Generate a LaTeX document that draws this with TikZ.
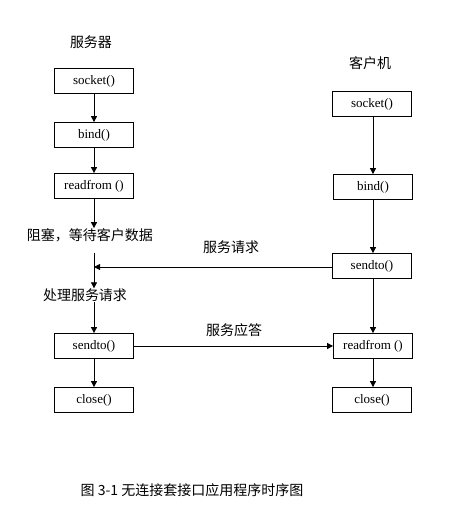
\documentclass[tikz,border=0pt]{standalone}
\usepackage{fontspec}
\setmainfont{Liberation Serif}
\newfontfamily\cjk{Noto Sans CJK SC}
\usetikzlibrary{arrows.meta}
\begin{document}
\begin{tikzpicture}[x=1pt,y=-1pt,
  fn/.style={draw,line width=0.8pt,minimum width=79pt,minimum height=25pt,inner sep=0pt,font=\fontsize{13}{13}\selectfont},
  lbl/.style={font=\cjk\fontsize{14}{14}\selectfont,inner sep=0pt},
  arr/.style={line width=0.8pt,-{Triangle[length=6pt,width=6pt]}},
  ln/.style={line width=0.8pt}]
\useasboundingbox (0,0) rectangle (454,531);
% server
\node[lbl] (st) at (91,42) {服务器};
\node[fn] (s1) at (94,81) {socket()};
\node[fn] (s2) at (94,135) {bind()};
\node[fn] (s3) at (94,186) {readfrom ()};
\node[lbl] (sb) at (90,235) {阻塞，等待客户数据};
\coordinate (sj) at (94,267);
\coordinate (sbo) at (94,253);
\node[lbl] (sp) at (85,295) {处理服务请求};
\node[fn] (s4) at (94,346) {sendto()};
\node[fn] (s5) at (94,400) {close()};
\draw[arr] (s1) -- (s2);
\draw[arr] (s2) -- (s3);
\draw[arr] (s3.south) -- (s3.south |- sb.north);
\draw[arr] (sbo) -- (sbo |- sp.north);
\draw[arr] (s4.north |- sp.south) -- (s4.north);
\draw[arr] (s4) -- (s5);
% client
\node[lbl] (ct) at (370,63) {客户机};
\node[fn] (c1) at (372,104) {socket()};
\node[fn] (c2) at (373,187) {bind()};
\node[fn] (c3) at (372,266) {sendto()};
\node[fn] (c4) at (373,346) {readfrom ()};
\node[fn] (c5) at (372,400) {close()};
\draw[arr] (c1.south -| 373,0) -- (c2.north -| 373,0);
\draw[arr] (c2.south -| 373,0) -- (c3.north -| 373,0);
\draw[arr] (c3.south -| 373,0) -- (c4.north -| 373,0);
\draw[arr] (c4.south -| 373,0) -- (c5.north -| 373,0);
% messages
\draw[arr] (c3.west |- sj) -- (sj);
\node[lbl] (m1) at (231,247) {服务请求};
\draw[arr] (s4.east) -- (c4.west);
\node[lbl] (m2) at (234,330) {服务应答};
% caption
\node[lbl,font=\cjk\fontsize{14}{14}\selectfont] (cap) at (192,490) {图 3-1 无连接套接口应用程序时序图};
\end{tikzpicture}
\end{document}
